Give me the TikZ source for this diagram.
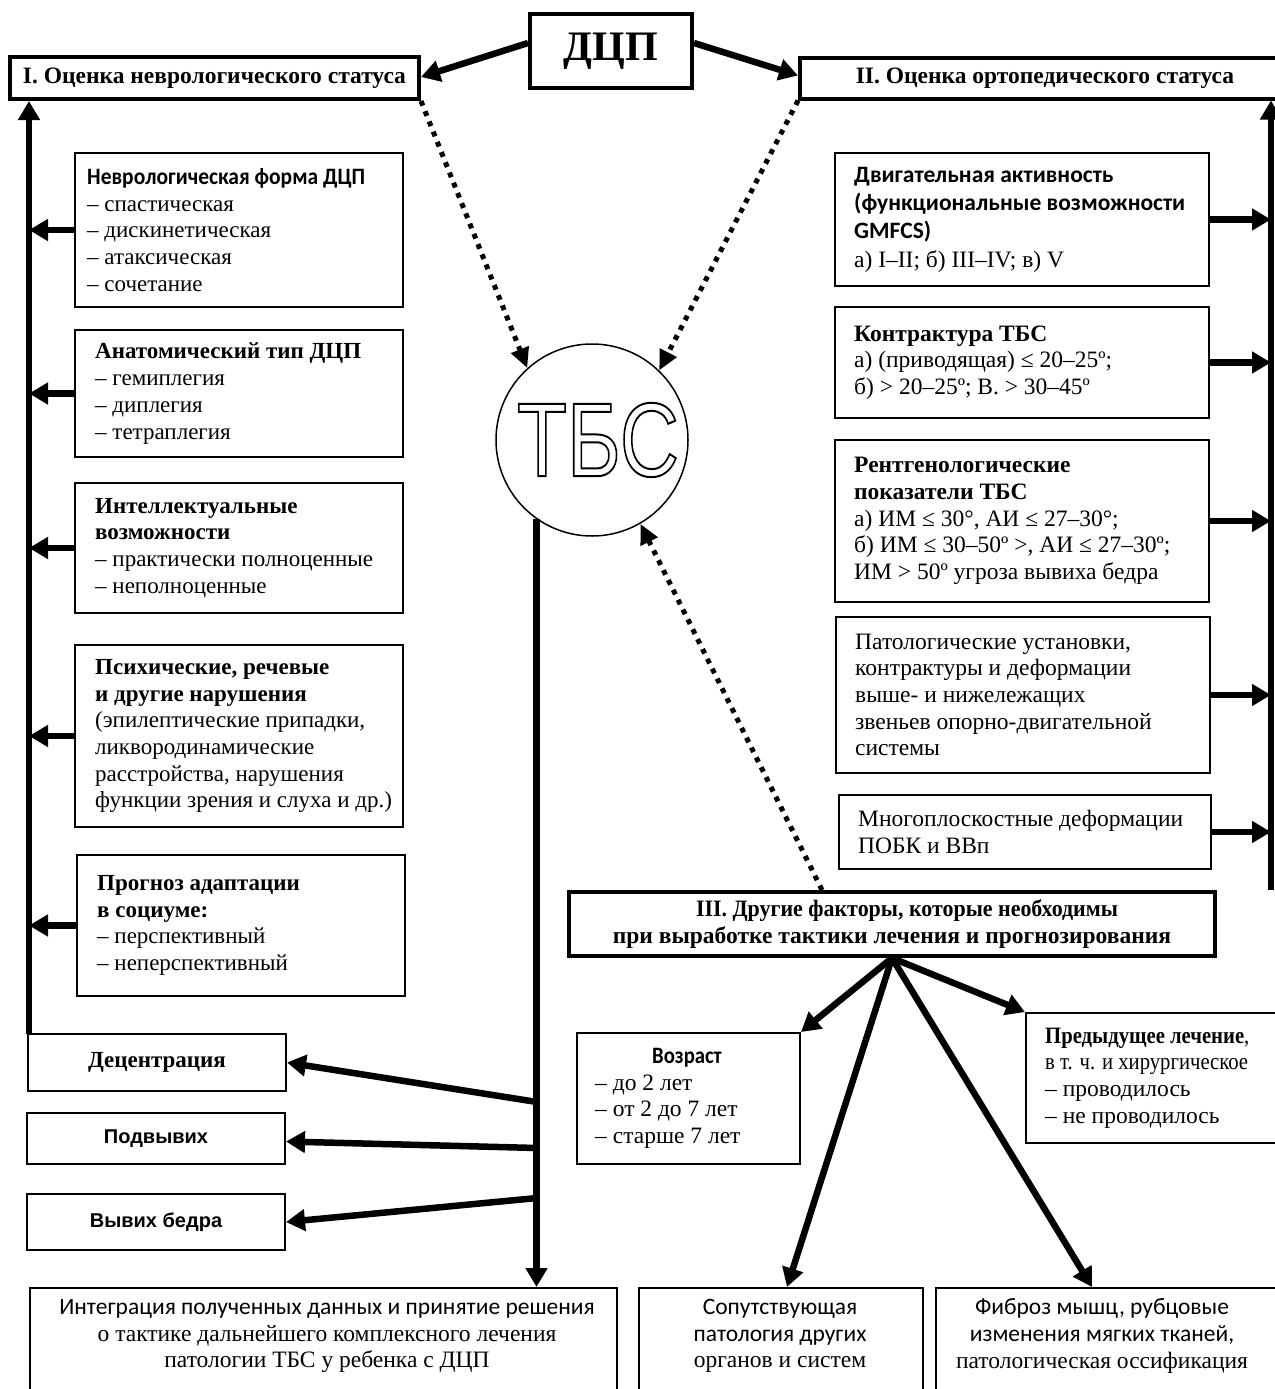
\documentclass[tikz,border=0pt]{standalone}
\usepackage{fontspec}
\setmainfont{Liberation Serif}
\newfontfamily\calfnt{Carlito}
\newfontfamily\arialfnt{Liberation Sans}
\usetikzlibrary{arrows.meta}
\newcommand\fs{\fontsize{23.5}{26.7}\selectfont}
\newcommand\fsl{\fontsize{23}{26.7}\selectfont}
\begin{document}
\begin{tikzpicture}[x=1pt,y=-1pt,
  thk/.style={draw, line width=4pt, inner sep=0pt},
  thn/.style={draw, line width=2pt, inner sep=0pt},
  txt/.style={font=\fs, align=left, inner sep=0pt},
  ltxt/.style={font=\fsl, align=left, inner sep=0pt},
  arr/.style={line width=6.5pt, -{Triangle[length=19pt,width=21pt]}},
  dotarr/.style={line width=5pt, dash pattern=on 5pt off 6pt, -{Triangle[length=20pt,width=18pt]}}]
\useasboundingbox (0,0) rectangle (1274,1389);

% top
\node[thk, minimum width=162, minimum height=74, font=\fontsize{42}{48}\selectfont\bfseries] (dcp) at (611,51) {ДЦП};
\node[thk, minimum width=409, minimum height=42, font=\fs\bfseries] (b1) at (214.5,78) {I. Оценка неврологического статуса};
\node[thk, minimum width=490, minimum height=40, font=\fs\bfseries] (b2) at (1045,78.5) {II. Оценка ортопедического статуса};

% circle
\node[circle, draw, line width=1.5pt, minimum size=192pt, inner sep=0pt] (tbs) at (592,440) {};
\node[inner sep=0pt, font=\fontsize{105}{105}\selectfont\arialfnt] (tbstxt) at (598,440) {\scalebox{0.78}[1]{\special{pdf:literal direct 1 Tr 2 w}ТБС\special{pdf:literal direct 0 Tr}}};

% left boxes
\node[thn, minimum width=328, minimum height=154] (n1) at (239,230) {};
\node[ltxt, anchor=west] (t1) at ([xshift=13pt]n1.west) {\scalebox{0.915}[1]{\calfnt\bfseries\fontsize{23.5}{26.7}\selectfont Неврологическая форма ДЦП}\\– спастическая\\– дискинетическая\\– атаксическая\\– сочетание};
\node[thn, minimum width=328, minimum height=127] (n2) at (239,393.5) {};
\node[ltxt, anchor=west] (t2) at ([xshift=21pt]n2.west) {\textbf{Анатомический тип ДЦП}\\– гемиплегия\\– диплегия\\– тетраплегия};
\node[thn, minimum width=328, minimum height=130] (n3) at (239,548) {};
\node[ltxt, anchor=west] (t3) at ([xshift=21pt]n3.west) {\textbf{Интеллектуальные}\\\textbf{возможности}\\– практически полноценные\\– неполноценные};
\node[thn, minimum width=328, minimum height=182] (n4) at (239,736) {};
\node[ltxt, anchor=west] (t4) at ([xshift=21pt]n4.west) {\textbf{Психические, речевые}\\\textbf{и другие нарушения}\\(эпилептические припадки,\\ликвородинамические\\расстройства, нарушения\\функции зрения и слуха и др.)};
\node[thn, minimum width=328, minimum height=141] (n5) at (241,925.5) {};
\node[ltxt, anchor=west] (t5) at ([xshift=21pt]n5.west) {\textbf{Прогноз адаптации}\\\textbf{в социуме:}\\– перспективный\\– неперспективный};

% right boxes
\node[thn, minimum width=374, minimum height=133] (r1) at (1022,219.5) {};
\node[txt, anchor=west, font=\fontsize{23.5}{28.3}\selectfont] (tr1) at ([xshift=20pt]r1.west) {{\calfnt\bfseries Двигательная активность}\\{\calfnt\bfseries (функциональные возможности}\\{\calfnt\bfseries GMFCS)}\\а) I–II; б) III–IV; в) V};
\node[thn, minimum width=374, minimum height=111] (r2) at (1022,362.5) {};
\node[txt, anchor=west] (tr2) at ([xshift=20pt]r2.west) {\textbf{Контрактура ТБС}\\а) (приводящая) ≤ 20–25º;\\б) > 20–25º; В. > 30–45º};
\node[thn, minimum width=374, minimum height=162] (r3) at (1022,521) {};
\node[txt, anchor=west] (tr3) at ([xshift=20pt]r3.west) {\textbf{Рентгенологические}\\\textbf{показатели ТБС}\\а) ИМ ≤ 30°, АИ ≤ 27–30°;\\б) ИМ ≤ 30–50º >, АИ ≤ 27–30º;\\ИМ > 50º угроза вывиха бедра};
\node[thn, minimum width=374, minimum height=156] (r4) at (1023,695) {};
\node[txt, anchor=west] (tr4) at ([xshift=20pt]r4.west) {Патологические установки,\\контрактуры и деформации\\выше- и нижележащих\\звеньев опорно-двигательной\\системы};
\node[thn, minimum width=372, minimum height=74] (r5) at (1025,832) {};
\node[txt, anchor=west] (tr5) at ([xshift=20pt]r5.west) {Многоплоскостные деформации\\ПОБК и ВВп};

% box III
\node[thk, minimum width=646, minimum height=64, font=\fs\bfseries, align=center] (b3) at (892,924) {\hspace*{30pt}\scalebox{0.934}[1]{III. Другие факторы, которые необходимы}\\при выработке тактики лечения и прогнозирования};

% age and previous treatment
\node[thn, minimum width=223, minimum height=131] (age) at (688.5,1098.5) {};
\node[txt, anchor=west] (tage) at ([xshift=19pt]age.west) {\hspace*{57pt}\scalebox{0.88}[1]{\calfnt\bfseries Возраст}\\– до 2 лет\\– от 2 до 7 лет\\– старше 7 лет};
\node[thn, minimum width=270, minimum height=130] (prev) at (1161,1078) {};
\node[txt, anchor=west] (tprev) at ([xshift=20pt]prev.west) {\scalebox{0.88}[1]{\textbf{Предыдущее лечение},}\\\scalebox{0.88}[1]{в т. ч. и хирургическое}\\– проводилось\\– не проводилось};

% bottom-left boxes
\node[thn, minimum width=258, minimum height=57, font=\fontsize{23}{26}\selectfont\bfseries] (dec) at (157,1062.5) {Децентрация};
\node[thn, minimum width=258, minimum height=51, font=\fontsize{20}{24}\selectfont\arialfnt\bfseries] (sub) at (156,1138.5) {Подвывих};
\node[thn, minimum width=258, minimum height=56, font=\fontsize{20}{24}\selectfont\arialfnt\bfseries] (lux) at (156,1222) {Вывих бедра};

% bottom boxes
\node[thn, minimum width=587, minimum height=113, anchor=north west] (integ) at (29,1287) {};
\node[txt, align=center] (tinteg) at (327,1336) {{\calfnt Интеграция полученных данных и принятие решения}\\о тактике дальнейшего комплексного лечения\\патологии ТБС у ребенка с ДЦП};
\node[thn, minimum width=284, minimum height=113, anchor=north west] (sop) at (638,1287) {};
\node[txt, align=center] (tsop) at (780,1336) {{\calfnt Сопутствующая}\\{\calfnt патология других}\\органов и систем};
\node[thn, minimum width=360, minimum height=113, anchor=north west] (fib) at (935,1287) {};
\node[txt, align=center] (tfib) at (1102,1336) {{\calfnt Фиброз мышц, рубцовые}\\{\calfnt изменения мягких тканей,}\\патологическая оссификация};

% connectors top
\draw[arr] ([yshift=8pt]dcp.west) -- ([yshift=1pt]b1.east);
\draw[arr] ([yshift=8pt]dcp.east) -- ([yshift=3pt]b2.west);
\draw[dotarr] (b1.south east) -- (tbs.132);
\draw[dotarr] (b2.south west) -- (tbs.46);
\draw[dotarr] ([xshift=255pt]b3.north west) -- (tbs.-60);

% left column
\coordinate (lb) at (29,1034);
\draw[arr] (lb) -- (lb |- b1.south);
\foreach \n in {n1,n2,n3,n4,n5} \draw[arr] (\n.west) -- (\n.west -| lb);

% right column
\coordinate (rb) at (1271,890);
\draw[arr] (rb) -- (rb |- b2.south);
\foreach \n in {r1,r2,r3,r4,r5} \draw[arr] (\n.east) -- (\n.east -| rb);

% center column
\coordinate (ctop) at (tbs.235);
\draw[arr] (ctop) -- (ctop |- integ.north);
\coordinate (c1) at (537,1102);
\coordinate (c2) at (537,1148);
\coordinate (c3) at (537,1198);
\draw[arr] (c1) -- (dec.east);
\draw[arr] (c2) -- ([yshift=-3pt]sub.east);
\draw[arr] (c3) -- (lux.east);

% box III fan
\draw[arr] (b3.south) -- (age.north east);
\draw[arr] (b3.south) -- (prev.north west);
\draw[arr] (b3.south) -- ([xshift=149pt]sop.north west);
\draw[arr] (b3.south) -- ([xshift=157pt]fib.north west);
\end{tikzpicture}
\end{document}
